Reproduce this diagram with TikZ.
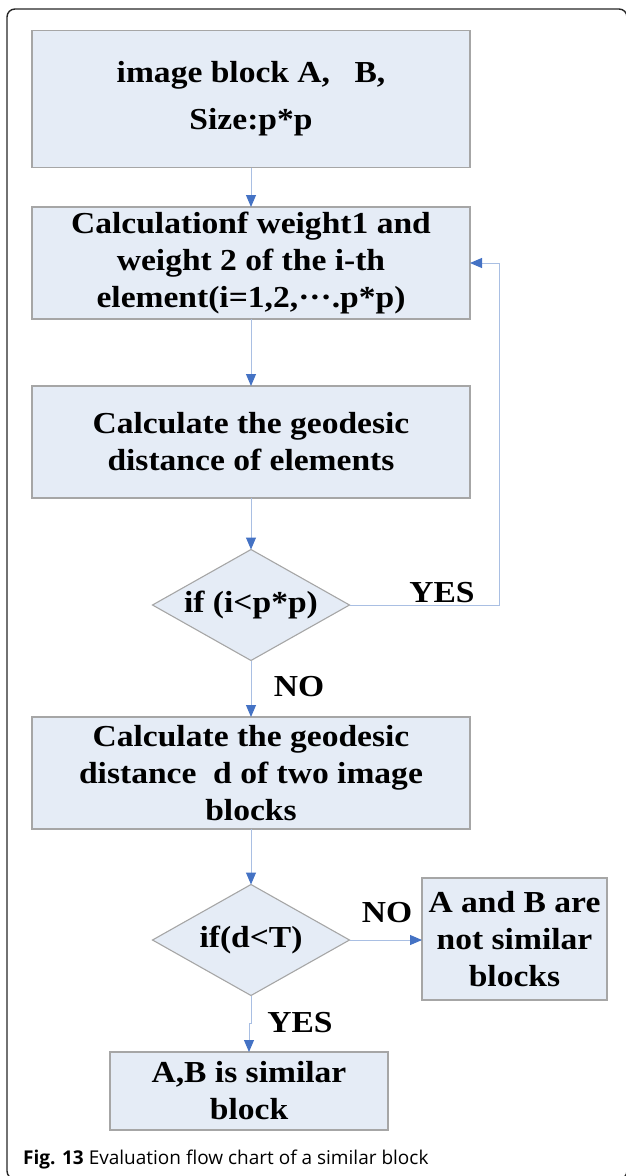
\documentclass[tikz,border=0pt]{standalone}
\usepackage{fontspec}
\setmainfont{Liberation Serif}
\newfontfamily\boxfont[FakeStretch=1.1]{Liberation Serif}
\newfontfamily\capfont{Open Sans}
\usetikzlibrary{shapes.geometric,arrows.meta}
\definecolor{boxfill}{HTML}{E5ECF6}
\definecolor{boxdraw}{HTML}{A6A6A6}
\definecolor{linecol}{HTML}{A9BFE3}
\definecolor{tipcol}{HTML}{4472C4}
\definecolor{framecol}{HTML}{262626}
\begin{document}
\begin{tikzpicture}[x=1pt,y=-1pt,
  boxtext/.style={font=\boxfont\bfseries\fontsize{30.5}{37}\selectfont},
  box/.style={boxtext, draw=boxdraw, fill=boxfill, line width=1.1pt, inner sep=0pt, outer sep=0pt, align=center},
  decision/.style={diamond, draw=boxdraw, fill=boxfill, line width=1.1pt, inner sep=0pt, outer sep=0pt, minimum width=197pt, minimum height=111pt},
  lbl/.style={boxtext, inner sep=0pt},
  flow/.style={draw=linecol, line width=1pt, -{Triangle[width=10pt,length=12pt,color=tipcol]}}
]
\useasboundingbox (0,0) rectangle (625,1176);
\draw[framecol, line width=1.4pt, rounded corners=8pt] (7,9) rectangle (627,1179);

\node[box, minimum width=438pt, minimum height=137pt, font=\boxfont\bfseries\fontsize{30.5}{47}\selectfont] (b1) at (251,99) {image block A,\hspace{0.8em}B,\\Size:p*p};
\node[box, minimum width=438pt, minimum height=112pt] (b2) at (251,263) {Calculationf weight1 and\\weight 2 of the i-th\\element(i=1,2,\textperiodcentered\textperiodcentered\textperiodcentered.p*p)};
\node[box, minimum width=438pt, minimum height=112pt] (b3) at (251,442) {Calculate the geodesic\\distance of elements};
\node[decision, label={[lbl]center:if (i<p*p)}] (d1) at (251,605) {};
\node[box, minimum width=438pt, minimum height=112pt] (b4) at (251,773) {Calculate the geodesic\\distance\ \ d of two image\\blocks};
\node[decision, label={[lbl]center:if(d<T)}] (d2) at (251,940) {};
\node[box, minimum width=185pt, minimum height=122pt] (b5) at (514.5,939) {A and B are\\not similar\\blocks};
\node[box, minimum width=278pt, minimum height=78pt] (b6) at (249,1091) {A,B is similar\\block};

\coordinate (loop) at (499,605);
\draw[flow] (b1.south) -- (b2.north);
\draw[flow] (b2.south) -- (b3.north);
\draw[flow] (b3.south) -- (d1.north);
\draw[flow] (d1.east) -- (loop) |- (b2.east);
\draw[flow] (d1.south) -- (b4.north);
\draw[flow] (b4.south) -- (d2.north);
\draw[flow] (d2.east) -- (b5.west |- d2.east);
\draw[flow] (d2.south) -- ++(0,28) -| (b6.north);

\node[lbl] (yes1) at (442,593) {YES};
\node[lbl] (no1) at (299,687) {NO};
\node[lbl] (no2) at (387,913) {NO};
\node[lbl] (yes2) at (300,1023) {YES};

\node[anchor=base west, inner sep=0pt, font=\capfont\fontsize{19}{22}\selectfont] (cap) at (23,1164) {\textbf{Fig. 13} Evaluation flow chart of a similar block};
\end{tikzpicture}
\end{document}
